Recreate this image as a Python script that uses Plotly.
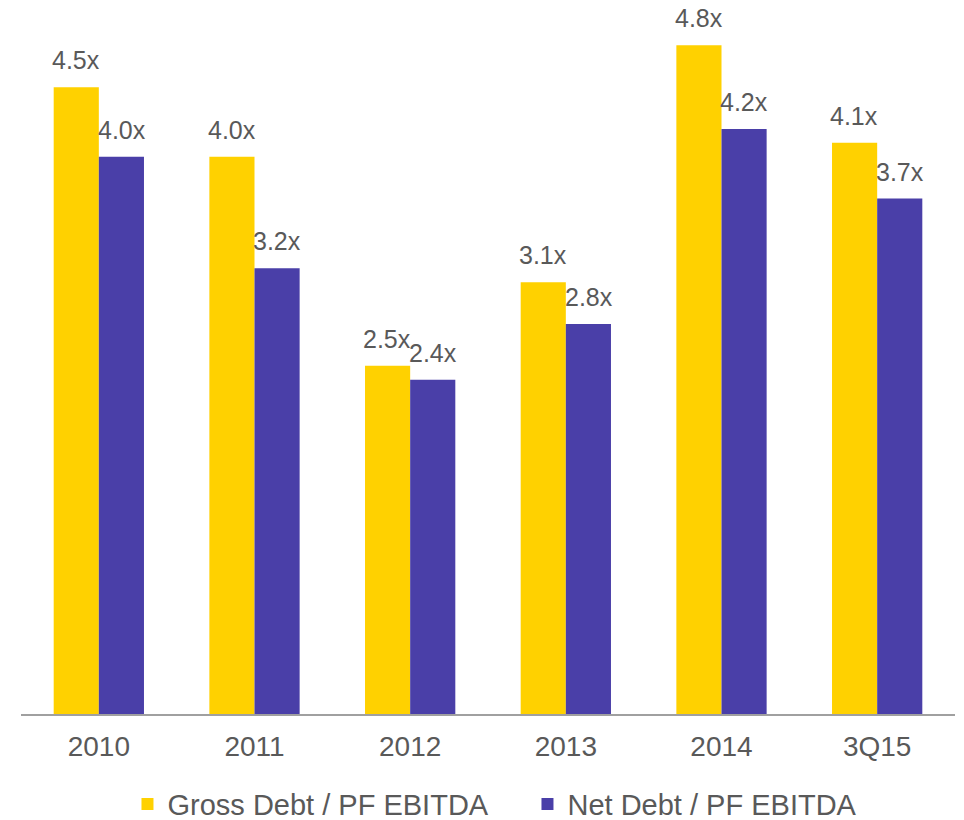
import plotly.graph_objects as go

categories = ["2010", "2011", "2012", "2013", "2014", "3Q15"]
gross_debt = [4.5, 4.0, 2.5, 3.1, 4.8, 4.1]
net_debt = [4.0, 3.2, 2.4, 2.8, 4.2, 3.7]
series_names = ["Gross Debt / PF EBITDA", "Net Debt / PF EBITDA"]

YELLOW = "#FFD100"
PURPLE = "#4A3FA8"
TEXT = "#595959"
FONT = "Liberation Sans, Arial, sans-serif"

fig = go.Figure()
fig.add_trace(go.Bar(x=categories, y=gross_debt, name=series_names[0],
                     marker=dict(color=YELLOW, line=dict(width=0))))
fig.add_trace(go.Bar(x=categories, y=net_debt, name=series_names[1],
                     marker=dict(color=PURPLE, line=dict(width=0))))

annotations = []
for vals, shift in ((gross_debt, -22.7), (net_debt, 22.7)):
    for i, v in enumerate(vals):
        annotations.append(dict(x=i, y=v, xref="x", yref="y", text=f"{v:.1f}x",
                                showarrow=False, xshift=shift, yshift=27,
                                yanchor="middle", xanchor="center",
                                font=dict(family=FONT, size=25, color=TEXT)))

fig.update_layout(
    width=964, height=820,
    margin=dict(l=21, r=9, t=20, b=106, autoexpand=False),
    paper_bgcolor="white", plot_bgcolor="white",
    barmode="group", bargap=0.42, bargroupgap=0,
    font=dict(family=FONT, color=TEXT),
    annotations=annotations,
    showlegend=True,
    legend=dict(orientation="h", x=0.114, xanchor="left", y=-0.13, yanchor="middle",
                font=dict(family=FONT, size=29, color=TEXT),
                itemwidth=30, entrywidth=355, entrywidthmode="pixels",
                traceorder="normal"),
    xaxis=dict(type="category", range=[-0.5, len(categories) - 0.5],
               showline=True, linecolor="#A0A0A0", linewidth=2,
               ticks="outside", ticklen=6, tickcolor="rgba(0,0,0,0)",
               tickfont=dict(family=FONT, size=28, color=TEXT), showgrid=False),
    yaxis=dict(range=[0, 4.982], visible=False, showgrid=False, zeroline=False),
)

fig.write_html("out.html", config={"displayModeBar": False},
               post_script="document.body.style.margin='0';document.body.style.padding='0';")
